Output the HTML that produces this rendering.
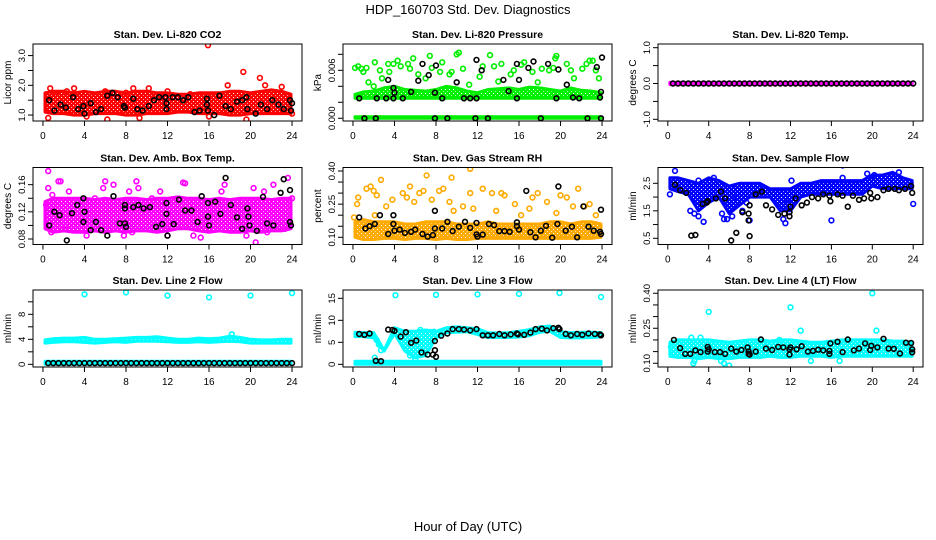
<!DOCTYPE html>
<html><head><meta charset="utf-8"><style>
html,body{margin:0;padding:0;background:#fff;}
svg{display:block;font-family:"Liberation Sans",Arial,sans-serif;}
</style></head><body>
<svg id="chart" width="936" height="540" viewBox="0 0 936 540" xmlns="http://www.w3.org/2000/svg">
<rect x="0" y="0" width="936" height="540" fill="#fff"/>
<text x="468" y="14" text-anchor="middle" font-size="13">HDP_160703  Std. Dev. Diagnostics</text>
<text x="468" y="531" text-anchor="middle" font-size="13">Hour of Day (UTC)</text>
</svg>
<script>
// ---------- data ----------
const xTicks = [0,4,8,12,16,20,24];
const bandHours = [0,1,2,3,4,5,6,7,8,9,10,11,12,13,14,15,16,17,18,19,20,21,22,23,24];

// P1 CO2
const co2BandLo = [1.1,1.05,1.05,1.0,1.0,1.05,1.05,1.05,1.0,1.0,1.05,1.05,1.05,1.1,1.1,1.05,1.05,1.05,1.0,1.0,1.05,1.05,1.05,1.05,1.05];
const co2BandHi = [1.75,1.8,1.8,1.75,1.8,1.75,1.8,1.8,1.75,1.8,1.8,1.75,1.75,1.7,1.7,1.75,1.75,1.75,1.8,1.8,1.75,1.8,1.85,1.8,1.7];
const co2PtH = [0.5,0.7,1.2,2.3,3,4.2,6.2,6,8,8.7,9.3,10.2,15.9,16,17.8,19.3,19.6,20.9,21.4,23,24,12,14.2];
const co2PtV = [0.9,1.9,1.7,1.8,1.9,0.95,0.85,1.8,1.75,1.9,0.9,1.9,3.35,0.95,2.0,2.45,0.85,2.25,2.0,1.95,1.05,1.8,1.7];
const co2BkH = [0.6,1.1,1.7,2.2,2.9,3.4,3.9,4.0,4.6,5.1,5.6,6.2,6.7,7.2,7.8,7.9,8.7,9.1,9.6,10.2,10.7,11.2,11.8,11.9,11.9,12.5,13.0,13.5,14.0,14.6,15.1,15.8,15.8,15.9,16.5,17,17.6,18.1,18.7,19.2,19.6,19.7,20.5,21,21.6,22.1,22.7,23.2,23.8,23.9,24];
const co2BkV = [1.5,1.15,1.35,1.25,1.6,1.2,1.3,1.05,1.4,1.1,1.2,1.65,1.75,1.6,1.3,1.25,1.55,1.2,1.15,1.3,1.5,1.6,1.6,1.4,1.2,1.6,1.6,1.5,1.6,1.1,1.15,1.55,1.35,1.15,1.0,1.65,1.3,1.2,1.45,1.5,1.6,1.2,1.05,1.35,1.2,1.5,1.35,1.2,1.5,1.15,1.4];

// P2 pressure
const prsBandLo = [0.0025,0.0025,0.0025,0.0025,0.0025,0.0025,0.0025,0.0025,0.0025,0.0025,0.0025,0.0025,0.0025,0.0025,0.0025,0.0025,0.0025,0.0025,0.0025,0.0025,0.0025,0.0025,0.0025,0.0025,0.0025];
const prsBandHi = [0.0030,0.0033,0.0034,0.0038,0.0040,0.0036,0.0035,0.0034,0.0036,0.0040,0.0038,0.0034,0.0032,0.0036,0.0037,0.0038,0.0036,0.0039,0.0038,0.0036,0.0034,0.0038,0.0035,0.0034,0.0032];
const prsZeroLo = [0,0,0,0,0,0,0,0,0,0,0,0,0,0,0,0,0,0,0,0,0,0,0,0,0];
const prsZeroHi = [0.0002,0.0002,0.0002,0.0002,0.0002,0.0002,0.0002,0.0002,0.0002,0.0002,0.0002,0.0002,0.0002,0.0002,0.0002,0.0002,0.0002,0.0002,0.0002,0.0002,0.0002,0.0002,0.0002,0.0002,0.0002];
const prsPtH = [0.2,0.5,0.8,1.0,1.3,1.5,2.1,2.0,2.6,2.8,3.4,3.5,3.9,4.3,4.6,5.3,5.5,5.8,6.3,7.0,7.4,7.6,8.4,8.6,9.3,9.5,10.2,10.0,10.6,11.2,12.2,12.5,13.2,13.6,14.0,14.3,15.2,15.5,16.2,16.5,17.3,17.8,18.2,18.9,19.3,19.5,19.6,20.6,21.0,21.3,22.1,22.5,22.8,23.1,23.4,23.7];
const prsPtV = [0.0063,0.0065,0.0062,0.0058,0.0063,0.0045,0.0070,0.0040,0.0060,0.0050,0.0068,0.0058,0.0068,0.0072,0.0065,0.0068,0.0062,0.0075,0.0055,0.0050,0.0078,0.0063,0.0058,0.0070,0.0055,0.0058,0.0082,0.0080,0.0062,0.0042,0.0052,0.0065,0.0079,0.0065,0.0046,0.0068,0.0055,0.0060,0.0067,0.0070,0.0058,0.0045,0.0062,0.0060,0.0063,0.0075,0.0078,0.0068,0.0060,0.0050,0.0062,0.0068,0.0072,0.0072,0.0060,0.0050];
const prsBkH = [0.6,1.1,2.2,2.3,3.2,3.4,3.9,3.9,4.0,4.8,5.6,6.3,6.7,7.3,7.9,7.9,8.0,8.6,9.1,10.0,10.7,11.3,11.8,11.9,11.9,12.4,13.0,14.5,15.0,15.8,15.8,16.0,16.9,17.4,18.1,18.8,19.6,19.8,20.6,21.2,21.8,22.6,23.5,23.8,23.9,23.9,24.0];
const prsBkV = [0.0025,0,0,0.0025,0.0025,0.0048,0.0038,0.0025,0.0032,0.0025,0.0033,0.0047,0.0068,0.0054,0.0032,0,0.0066,0.0025,0,0.0045,0.0025,0.0025,0,0.0025,0.0073,0.0060,0,0.0048,0.0034,0.0068,0.0025,0.0048,0.0063,0.0071,0,0.0068,0.0025,0.0061,0.0042,0.0026,0.0025,0,0.0064,0.0026,0.0033,0,0.0076];

// P3 Li-820 temp
const tmpBandLo = [-0.03,-0.03,-0.03,-0.03,-0.03,-0.03,-0.03,-0.03,-0.03,-0.03,-0.03,-0.03,-0.03,-0.03,-0.03,-0.03,-0.03,-0.03,-0.03,-0.03,-0.03,-0.03,-0.03,-0.03,-0.03];
const tmpBandHi = [0.03,0.03,0.03,0.03,0.03,0.03,0.03,0.03,0.03,0.03,0.03,0.03,0.03,0.03,0.03,0.03,0.03,0.03,0.03,0.03,0.03,0.03,0.03,0.03,0.03];
const tmpBkH = [0.5,1,1.5,2,2.5,3,3.5,4,4.5,5,5.5,6,6.5,7,7.5,8,8.5,9,9.5,10,10.5,11,11.5,12,12.5,13,13.5,14,14.5,15,15.5,16,16.5,17,17.5,18,18.5,19,19.5,20,20.5,21,21.5,22,22.5,23,23.5,24];
const tmpBkV = [0,0,0,0,0,0,0,0,0,0,0,0,0,0,0,0,0,0,0,0,0,0,0,0,0,0,0,0,0,0,0,0,0,0,0,0,0,0,0,0,0,0,0,0,0,0,0,0];

// P4 amb box temp
const ambBandLo = [0.095,0.09,0.092,0.09,0.09,0.092,0.09,0.092,0.09,0.092,0.092,0.09,0.092,0.095,0.095,0.092,0.09,0.092,0.09,0.09,0.092,0.09,0.092,0.092,0.095];
const ambBandHi = [0.135,0.14,0.14,0.14,0.14,0.138,0.14,0.138,0.14,0.14,0.138,0.14,0.14,0.142,0.14,0.14,0.138,0.14,0.138,0.14,0.14,0.14,0.138,0.14,0.14];
const ambPtH = [0.3,0.5,0.5,0.9,1.5,1.7,2.5,0.8,4.2,5,6.0,5.8,6.8,7.8,8.3,9.0,9.2,10.5,11.3,12,13.5,13.7,14.5,15.2,17.2,17.5,19.6,20.3,20.5,21.3,22.2,23.6,24,23.3,21.6,8.6,2.2];
const ambPtV = [0.13,0.18,0.155,0.145,0.165,0.165,0.15,0.09,0.085,0.14,0.165,0.155,0.16,0.085,0.15,0.165,0.155,0.14,0.15,0.085,0.163,0.162,0.085,0.082,0.15,0.16,0.085,0.155,0.075,0.15,0.16,0.17,0.14,0.095,0.09,0.09,0.095];
const ambBkH = [0.6,1.1,1.6,2.3,2.8,3.3,3.9,3.9,4.0,4.6,5.1,5.6,6.2,6.8,7.4,7.9,7.9,7.9,8.0,8.7,9.2,9.7,10.3,10.9,11.5,11.9,11.9,12,12.6,13.1,13.7,14.3,14.9,15.3,15.9,15.9,16,16.6,17.1,17.6,18.1,18.7,19.2,19.7,19.8,19.9,20.6,21.2,21.6,22.2,22.9,23.2,23.8,23.8,23.9];
const ambBkV = [0.1,0.12,0.115,0.078,0.118,0.13,0.14,0.105,0.12,0.093,0.105,0.093,0.085,0.143,0.103,0.13,0.125,0.103,0.098,0.127,0.13,0.125,0.127,0.098,0.102,0.133,0.117,0.085,0.102,0.138,0.122,0.122,0.105,0.143,0.133,0.113,0.1,0.135,0.117,0.17,0.13,0.112,0.095,0.125,0.113,0.1,0.092,0.142,0.103,0.1,0.148,0.168,0.152,0.105,0.1];

// P5 gas stream RH
const rhBandLo = [0.1,0.09,0.09,0.095,0.095,0.09,0.095,0.095,0.09,0.095,0.09,0.09,0.095,0.095,0.095,0.095,0.095,0.095,0.095,0.095,0.095,0.095,0.095,0.095,0.1];
const rhBandHi = [0.17,0.18,0.17,0.17,0.17,0.16,0.16,0.17,0.17,0.17,0.16,0.16,0.16,0.17,0.16,0.16,0.16,0.16,0.16,0.17,0.17,0.16,0.17,0.17,0.16];
const rhPtH = [0.4,0.5,1.3,1.7,2.0,2.3,2.7,2.1,3.2,3.8,4.8,5.2,5.5,5.9,6.4,6.8,7.1,7.6,8.3,8.7,9.5,9.3,9.7,10.6,11.3,11.3,11.6,12.5,13.4,13.8,14.3,14.6,15.6,16.2,17.0,17.3,17.8,18.7,19.6,20.0,20.6,21.2,21.7,22.3,22.8,23.4,0.1];
const rhPtV = [0.25,0.28,0.32,0.33,0.31,0.29,0.36,0.2,0.24,0.27,0.3,0.28,0.33,0.26,0.3,0.31,0.38,0.27,0.31,0.32,0.37,0.26,0.22,0.24,0.41,0.3,0.23,0.32,0.3,0.22,0.3,0.29,0.25,0.2,0.23,0.28,0.3,0.26,0.21,0.29,0.28,0.24,0.32,0.24,0.25,0.2,0.19];
const rhBkH = [0.6,1.2,1.6,2.1,2.6,3.4,3.9,3.9,4.0,4.5,5.0,5.6,6.0,6.7,7.2,7.7,7.9,7.9,8.6,9.1,9.6,10.2,10.8,11.3,11.9,11.9,12,12.5,13.1,13.6,14.1,14.6,15.1,15.8,15.8,16.0,16.7,17.1,17.6,18.1,18.6,19.2,19.7,19.8,20.5,21.1,21.6,22.2,22.7,23.2,23.8,23.9,23.9];
const rhBkV = [0.19,0.14,0.15,0.16,0.2,0.115,0.2,0.16,0.13,0.135,0.12,0.125,0.135,0.115,0.103,0.11,0.22,0.14,0.14,0.17,0.128,0.148,0.17,0.143,0.165,0.113,0.103,0.112,0.16,0.155,0.128,0.128,0.125,0.168,0.15,0.135,0.31,0.123,0.1,0.13,0.152,0.098,0.16,0.33,0.13,0.148,0.1,0.24,0.148,0.13,0.125,0.115,0.225];

// P6 sample flow
const sfBandLo = [2.3,2.2,2.1,1.5,1.8,2.0,1.4,1.7,2.0,2.0,2.0,1.5,1.5,2.0,2.1,2.1,2.1,2.1,2.1,2.1,2.4,2.3,2.3,2.3,2.3];
const sfBandHi = [2.7,2.7,2.6,2.5,2.7,2.6,2.4,2.5,2.5,2.5,2.3,2.3,2.3,2.5,2.5,2.6,2.6,2.6,2.6,2.6,2.8,2.8,2.9,2.7,2.6];
const sfPtH = [0.7,2.2,2.6,3.0,3.5,3.0,4.5,5.3,5.8,6.3,7.3,7.7,8.0,9.5,11.5,11.7,12.1,16.0,17.1,17.1,19.5,20.2,22.6,24,0.2,6.7,5.5,11.3];
const sfPtV = [2.95,1.5,1.4,1.3,1.1,2.6,2.7,1.4,1.2,1.3,1.5,1.8,1.15,2.3,1.05,1.8,2.6,1.15,3.15,2.7,2.85,2.8,2.9,1.75,2.1,2.0,1.2,1.2];
const sfBkH = [0.7,1.2,1.8,2.3,2.7,3.4,3.8,3.9,4.7,5.2,5.6,6.2,6.7,7.3,7.9,7.9,8.0,8.0,8.6,9.2,9.6,10.2,10.8,11.4,11.9,11.9,12,12.5,13.1,13.6,14.1,14.7,15.2,15.8,15.9,16.6,17.1,17.6,18.1,18.7,19.2,19.8,19.9,20.5,21.1,21.6,22.2,22.6,23.2,23.8,23.9];
const sfBkV = [2.45,2.25,2.15,0.6,0.62,1.75,1.8,1.85,1.95,2.2,1.95,0.42,0.7,1.45,1.4,1.15,0.58,1.7,2.1,2.2,1.7,1.55,1.35,1.4,1.3,1.45,1.65,1.95,1.7,1.8,2.0,1.95,2.1,2.05,1.85,2.1,2.05,1.65,2.05,1.9,1.95,2.15,1.95,2.0,2.25,2.3,2.3,2.25,2.3,2.4,2.15];

// P7 line 2 flow
const l2BandLo = [3.4,3.5,3.6,3.6,3.5,3.4,3.5,3.6,3.5,3.7,3.7,3.7,3.6,3.5,3.5,3.6,3.5,3.6,3.7,3.6,3.4,3.4,3.4,3.4,3.4];
const l2BandHi = [3.9,4.1,4.2,4.2,4.3,4.0,4.0,4.1,4.2,4.3,4.3,4.4,4.2,4.0,4.0,4.2,4.1,4.2,4.5,4.3,4.0,3.9,3.9,4.0,4.0];
const l2ZeroLo = [0,0,0,0,0,0,0,0,0,0,0,0,0,0,0,0,0,0,0,0,0,0,0,0,0];
const l2ZeroHi = [0.5,0.5,0.5,0.5,0.5,0.5,0.5,0.5,0.5,0.5,0.5,0.5,0.5,0.5,0.5,0.5,0.5,0.5,0.5,0.5,0.5,0.5,0.5,0.5,0.5];
const l2PtH = [4,8,12,16,20,24,18.2];
const l2PtV = [11.2,11.5,11.0,10.7,11.0,11.4,4.8];
const l2BkH = [0.5,1,1.5,2,2.5,3,3.5,4,4.5,5,5.5,6,6.5,7,7.5,8,8.5,9,9.5,10,10.5,11,11.5,12,12.5,13,13.5,14,14.5,15,15.5,16,16.5,17,17.5,18,18.5,19,19.5,20,20.5,21,21.5,22,22.5,23,23.5,24];
const l2BkV = [0.2,0.2,0.2,0.2,0.2,0.2,0.2,0.2,0.2,0.2,0.2,0.2,0.2,0.2,0.2,0.2,0.2,0.2,0.2,0.2,0.2,0.2,0.2,0.2,0.2,0.2,0.2,0.2,0.2,0.2,0.2,0.2,0.2,0.2,0.2,0.2,0.2,0.2,0.2,0.2,0.2,0.2,0.2,0.2,0.2,0.2,0.2,0.2];

// P8 line 3 flow
const l3BandLo = [6.3,6.3,6.0,3.0,7.0,3.0,1.5,2.0,6.0,7.2,7.3,7.4,6.8,6.1,6.1,6.1,6.2,6.5,7.3,7.5,6.1,6.0,6.0,6.1,6.2];
const l3BandHi = [7.3,7.2,7.2,3.2,8.3,7.5,7.5,7.8,7.5,8.3,8.5,8.3,8.1,7.2,7.1,7.2,7.5,7.9,8.5,8.7,7.4,7.2,7.3,7.3,7.2];
const l3ZeroLo = [0,0,0,0,0,0,0,0,0,0,0,0,0,0,0,0,0,0,0,0,0,0,0,0,0];
const l3ZeroHi = [0.7,0.7,0.7,0.7,0.7,0.7,0.7,0.7,0.7,0.7,0.7,0.7,0.7,0.7,0.7,0.7,0.7,0.7,0.7,0.7,0.7,0.7,0.7,0.7,0.7];
const l3PtH = [2.1,2.3,2.5,2.7,4.1,8,12,16,19.9,23.9,5.5,6,6.5,7.8];
const l3PtV = [1.5,5.5,4.5,3.2,15.7,15.8,15.9,16,16.2,15.3,2,1.2,7.8,7.4];
const l3BkH = [0.6,1.1,1.6,2.2,2.7,3.4,3.8,4.0,4.6,5.1,5.6,6.1,6.6,7.2,7.7,7.9,7.9,8.0,8.5,9.1,9.6,10.2,10.7,11.3,11.9,12.5,13.0,13.5,14.1,14.6,15.2,15.8,15.9,16.5,17.1,17.6,18.2,18.7,19.3,19.8,19.9,20.5,21.0,21.6,22.1,22.7,23.3,23.8,23.9];
const l3BkV = [6.9,6.7,7.0,0.8,0.7,7.9,7.8,7.6,6.3,7.3,4.9,5.4,2.7,2.2,2.2,5.3,3.2,1.7,6.5,7.0,8.0,8.0,7.9,7.7,8.0,6.6,6.6,6.6,6.9,6.6,6.8,7.0,6.8,6.7,7.2,8.0,8.1,7.7,8.2,8.3,8.0,6.9,6.6,6.9,6.7,7.0,6.9,6.8,6.6];

// P9 line 4 flow
const l4BandLo = [0.13,0.125,0.125,0.12,0.125,0.12,0.12,0.125,0.125,0.125,0.13,0.125,0.125,0.13,0.13,0.13,0.125,0.13,0.13,0.13,0.13,0.13,0.13,0.13,0.13];
const l4BandHi = [0.19,0.2,0.2,0.2,0.2,0.195,0.19,0.195,0.2,0.2,0.195,0.2,0.2,0.195,0.19,0.19,0.195,0.2,0.2,0.2,0.2,0.2,0.195,0.195,0.19];
const l4PtH = [4,12,20,2.5,5.5,6,13,20.4,0.3,2.3,3.2,14,16.8,10.9,2.6,5.2];
const l4PtV = [0.32,0.34,0.40,0.10,0.10,0.09,0.24,0.24,0.17,0.21,0.21,0.11,0.11,0.2,0.11,0.11];
const l4BkH = [0.6,1.2,1.7,2.2,2.7,3.2,3.9,3.9,4.0,4.6,5.1,5.6,6.2,6.7,7.2,7.8,7.9,7.9,8.0,8.6,9.1,9.6,10.2,10.8,11.3,11.9,11.9,12.0,12.6,13.1,13.7,14.2,14.7,15.2,15.8,15.8,15.9,16.6,17.1,17.6,18.2,18.7,19.3,19.8,19.9,20.5,21.1,21.6,22.1,22.7,23.3,23.8,23.9,23.9];
const l4BkV = [0.2,0.165,0.14,0.14,0.155,0.148,0.17,0.15,0.16,0.148,0.148,0.14,0.163,0.15,0.157,0.168,0.15,0.14,0.137,0.15,0.202,0.163,0.157,0.17,0.168,0.16,0.137,0.168,0.16,0.173,0.15,0.153,0.158,0.155,0.153,0.14,0.185,0.192,0.148,0.202,0.155,0.163,0.185,0.157,0.175,0.168,0.205,0.163,0.162,0.142,0.188,0.187,0.16,0.147];

// tick arrays
const p1Ticks=[1,1.5,2,2.5,3], p1Labels=["1.0","","2.0","","3.0"];
const p2Ticks=[0,0.002,0.004,0.006,0.008], p2Labels=["0.000","","","0.006",""];
const p3Ticks=[-1,-0.5,0,0.5,1], p3Labels=["-1.0","","0.0","","1.0"];
const p4Ticks=[0.08,0.10,0.12,0.14,0.16], p4Labels=["0.08","","0.12","","0.16"];
const p5Ticks=[0.10,0.15,0.20,0.25,0.30,0.35,0.40], p5Labels=["0.10","","","0.25","","","0.40"];
const p6Ticks=[0.5,1,1.5,2,2.5], p6Labels=["0.5","","1.5","","2.5"];
const p7Ticks=[0,2,4,6,8,10], p7Labels=["0","","4","","8",""];
const p8Ticks=[0,5,10,15], p8Labels=["0","5","10","15"];
const p9Ticks=[0.10,0.15,0.20,0.25,0.30,0.35,0.40], p9Labels=["0.10","","","0.25","","","0.40"];

// ---------- layout ----------
const colLeft=[33,343,658], colW=[269,269,265];
const rowTop=[44,167.5,290], boxH=77;
const panels=[
 {name:"co2",title:"Stan. Dev. Li-820 CO2",yt:"Licor ppm",col:"#ff0000",y0:0.80,y1:3.39,bands:[[co2BandLo,co2BandHi]],ph:co2PtH,pv:co2PtV,bh:co2BkH,bv:co2BkV,ticks:p1Ticks,labels:p1Labels},
 {name:"pressure",title:"Stan. Dev. Li-820 Pressure",yt:"kPa",col:"#00ee00",y0:-0.00034,y1:0.00929,bands:[[prsZeroLo,prsZeroHi],[prsBandLo,prsBandHi]],ph:prsPtH,pv:prsPtV,bh:prsBkH,bv:prsBkV,ticks:p2Ticks,labels:p2Labels},
 {name:"li820-temp",title:"Stan. Dev. Li-820 Temp.",yt:"degrees C",col:"#ff00ff",y0:-1.047,y1:1.103,bands:[[tmpBandLo,tmpBandHi]],ph:[],pv:[],bh:tmpBkH,bv:tmpBkV,ticks:p3Ticks,labels:p3Labels},
 {name:"amb-box-temp",title:"Stan. Dev. Amb. Box Temp.",yt:"degrees C",col:"#ff00ff",y0:0.0719,y1:0.1853,bands:[[ambBandLo,ambBandHi]],ph:ambPtH,pv:ambPtV,bh:ambBkH,bv:ambBkV,ticks:p4Ticks,labels:p4Labels},
 {name:"gas-rh",title:"Stan. Dev. Gas Stream RH",yt:"percent",col:"#ffaa00",y0:0.0674,y1:0.4158,bands:[[rhBandLo,rhBandHi]],ph:rhPtH,pv:rhPtV,bh:rhBkH,bv:rhBkV,ticks:p5Ticks,labels:p5Labels},
 {name:"sample-flow",title:"Stan. Dev. Sample Flow",yt:"ml/min",col:"#0000ff",y0:0.2745,y1:3.075,bands:[[sfBandLo,sfBandHi]],ph:sfPtH,pv:sfPtV,bh:sfBkH,bv:sfBkV,ticks:p6Ticks,labels:p6Labels},
 {name:"line2-flow",title:"Stan. Dev. Line 2 Flow",yt:"ml/min",col:"#00ffff",y0:-0.43,y1:11.89,bands:[[l2ZeroLo,l2ZeroHi],[l2BandLo,l2BandHi]],ph:l2PtH,pv:l2PtV,bh:l2BkH,bv:l2BkV,ticks:p7Ticks,labels:p7Labels},
 {name:"line3-flow",title:"Stan. Dev. Line 3 Flow",yt:"ml/min",col:"#00ffff",y0:-0.61,y1:16.89,bands:[[l3ZeroLo,l3ZeroHi],[l3BandLo,l3BandHi]],ph:l3PtH,pv:l3PtV,bh:l3BkH,bv:l3BkV,ticks:p8Ticks,labels:p8Labels},
 {name:"line4-flow",title:"Stan. Dev. Line 4 (LT) Flow",yt:"ml/min",col:"#00ffff",y0:0.084,y1:0.414,bands:[[l4BandLo,l4BandHi]],ph:l4PtH,pv:l4PtV,bh:l4BkH,bv:l4BkV,ticks:p9Ticks,labels:p9Labels}
];

const NS="http://www.w3.org/2000/svg";
const svg=document.getElementById('chart');
function mk(tag,attrs,parent){const e=document.createElementNS(NS,tag);for(const k in attrs)e.setAttribute(k,attrs[k]);parent.appendChild(e);return e;}
const defs=mk('defs',{},svg);

panels.forEach((p,i)=>{
  const c=i%3, r=Math.floor(i/3);
  const L=colLeft[c], W=colW[c], T=rowTop[r], B=T+boxH;
  const xs=h=>L+(h+0.96)/25.92*W;
  const ys=v=>B-(v-p.y0)/(p.y1-p.y0)*boxH;
  // speckle pattern for dense bands
  const pat=mk('pattern',{id:'pat'+i,width:4,height:4,patternUnits:'userSpaceOnUse'},defs);
  mk('rect',{x:0,y:0,width:4,height:4,fill:p.col},pat);
  mk('rect',{x:1,y:1,width:1,height:1,fill:'#fff'},pat);
  mk('rect',{x:3,y:3,width:1,height:1,fill:'#fff','fill-opacity':0.6},pat);
  const g=mk('g',{},svg);
  
  
  const clip=mk('clipPath',{id:'clip'+i},g);
  mk('rect',{x:L,y:T,width:W,height:boxH},clip);
  const plot=mk('g',{'clip-path':'url(#clip'+i+')'},g);
  
  
  p.bands.forEach((b)=>{
    const lo=b[0], hi=b[1];
    let pts=[];
    for(let k=0;k<bandHours.length;k++){const h=Math.min(Math.max(bandHours[k],0.2),23.9);pts.push(xs(h).toFixed(1)+','+ys(hi[k]).toFixed(1));}
    for(let k=bandHours.length-1;k>=0;k--){const h=Math.min(Math.max(bandHours[k],0.2),23.9);pts.push(xs(h).toFixed(1)+','+ys(lo[k]).toFixed(1));}
    const poly=mk('polygon',{points:pts.join(' '),fill:'url(#pat'+i+')',stroke:p.col,'stroke-width':3,'stroke-linejoin':'round'},plot);
    
    
  });
  p.ph.forEach((h,k)=>{
    const cc=mk('circle',{cx:xs(h).toFixed(1),cy:ys(p.pv[k]).toFixed(1),r:2.4,fill:'none',stroke:p.col,'stroke-width':1.6},plot);
    
    
  });
  p.bh.forEach((h,k)=>{
    const cc=mk('circle',{cx:xs(h).toFixed(1),cy:ys(p.bv[k]).toFixed(1),r:2.4,fill:'none',stroke:'#000','stroke-width':1.6},plot);
    
    
  });
  const box=mk('rect',{x:L,y:T,width:W,height:boxH,fill:'none',stroke:'#000','stroke-width':1},g);
  
  
  const t=mk('text',{x:L+W/2,y:T-6,'text-anchor':'middle','font-size':10.5,'font-weight':'bold'},g);
  t.textContent=p.title;
  
  
  const xa=mk('g',{},g);
  
  
  xTicks.forEach(h=>{
    const x=xs(h);
    mk('line',{x1:x,x2:x,y1:B,y2:B+5,stroke:'#000','stroke-width':1},xa);
    const tl=mk('text',{x:x,y:B+18,'text-anchor':'middle','font-size':10},xa);
    tl.textContent=String(h);
  });
  const ya=mk('g',{},g);
  
  
  p.ticks.forEach((v,k)=>{
    const y=ys(v);
    mk('line',{x1:L-5,x2:L,y1:y,y2:y,stroke:'#000','stroke-width':1},ya);
    if(p.labels[k]){
      const tl=mk('text',{x:L-8,y:y,'text-anchor':'middle','font-size':9.5,transform:'rotate(-90 '+(L-8)+' '+y+')'},ya);
      tl.textContent=p.labels[k];
    }
  });
  const yt=mk('text',{x:L-22,y:T+boxH/2,'text-anchor':'middle','font-size':10,transform:'rotate(-90 '+(L-22)+' '+(T+boxH/2)+')'},g);
  yt.textContent=p.yt;
  
  
});
</script>
</body></html>
